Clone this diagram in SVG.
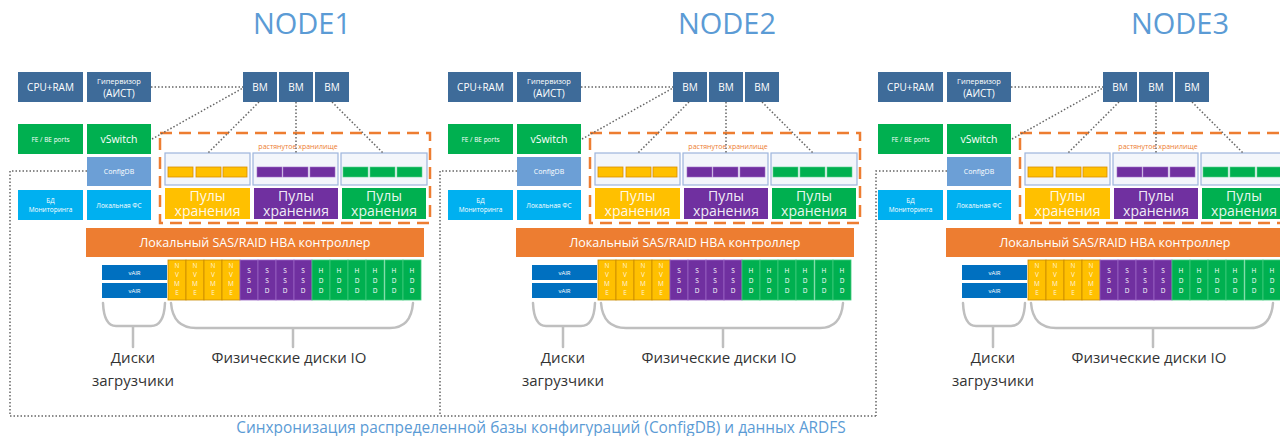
<svg xmlns="http://www.w3.org/2000/svg" width="1280" height="436" viewBox="0 0 1280 436">
<style>
text{font-family:"Open Sans","Liberation Sans",sans-serif;text-anchor:middle}
.title{font-size:29px;fill:#5b9bd5}
.dk{fill:#3e6b99}
.gr{fill:#00b050}
.lb{fill:#6c9fd6}
.cy{fill:#00b0f0}
.w{fill:#fff}
.sc{fill:#f3f6fb;stroke:#9db5dd;stroke-width:1.2}
.co{fill:#ffc000;stroke:#d98e00;stroke-width:0.8}
.cp{fill:#7030a0;stroke:#a070c8;stroke-width:0.6}
.cg{fill:#00b050;stroke:#5fd08f;stroke-width:0.6}
.po{fill:#ffc000}.pp{fill:#7030a0}.pg{fill:#00b050}
.pt{font-size:14px;fill:#fff;fill-opacity:.92}
.dash{fill:none;stroke:#ed7d31;stroke-width:2.5;stroke-dasharray:12 7}
.dN{fill:#ffc000;stroke:#c98a00;stroke-width:0.8}
.dS{fill:#7030a0;stroke:#9a64c4;stroke-width:0.8}
.dH{fill:#00b050;stroke:#3fca7c;stroke-width:0.8}
.lt{font-size:6.5px;fill:#fff}
.brace{fill:none;stroke:#bfbfbf;stroke-width:2.5;stroke-linecap:round}
.lbl{font-size:15px;fill:#333}
.dot{fill:none;stroke:#666;stroke-width:1.5;stroke-dasharray:1.5 2}
</style>
<defs>
<g id="server">
<rect class="dk" x="18" y="72" width="65" height="30"/>
<text class="w" x="50.5" y="91" font-size="10">CPU+RAM</text>
<rect class="dk" x="87" y="72" width="64" height="30"/>
<text class="w" x="119" y="84" font-size="7.5">Гипервизор</text>
<text class="w" x="119" y="97" font-size="10">(АИСТ)</text>
<rect class="dk" x="243" y="72" width="34" height="30"/>
<text class="w" x="260" y="91" font-size="10">ВМ</text>
<rect class="dk" x="279" y="72" width="34" height="30"/>
<text class="w" x="296" y="91" font-size="10">ВМ</text>
<rect class="dk" x="315" y="72" width="34" height="30"/>
<text class="w" x="332" y="91" font-size="10">ВМ</text>
<rect class="gr" x="18" y="124" width="65" height="30"/>
<text class="w" x="50.5" y="142" font-size="6.5">FE / BE ports</text>
<rect class="gr" x="87" y="124" width="64" height="30"/>
<text class="w" x="119" y="143" font-size="10.5">vSwitch</text>
<rect class="lb" x="87" y="157" width="64" height="29"/>
<text class="w" x="119" y="174" font-size="7">ConfigDB</text>
<rect class="cy" x="18" y="190" width="65" height="30"/>
<text class="w" x="50.5" y="203" font-size="6.5">БД</text>
<text class="w" x="50.5" y="212" font-size="6.5">Мониторинга</text>
<rect class="cy" x="87" y="190" width="64" height="30"/>
<text class="w" x="119" y="208" font-size="6.5">Локальная ФС</text>
<rect class="dash" x="160" y="133" width="270" height="90"/>
<text x="298" y="149" font-size="7" fill="#ed7d31">растянутое хранилище</text>
<rect class="sc" x="165" y="153" width="85" height="32"/>
<rect class="sc" x="253" y="153" width="85" height="32"/>
<rect class="sc" x="341" y="153" width="86" height="32"/>
<rect class="co" x="168" y="167" width="25" height="10"/>
<rect class="co" x="196" y="167" width="25" height="10"/>
<rect class="co" x="223" y="167" width="24" height="10"/>
<rect class="cp" x="257" y="167" width="25" height="10"/>
<rect class="cp" x="283" y="167" width="25" height="10"/>
<rect class="cp" x="310" y="167" width="25" height="10"/>
<rect class="cg" x="343" y="167" width="25" height="10"/>
<rect class="cg" x="370" y="167" width="25" height="10"/>
<rect class="cg" x="397" y="167" width="25" height="10"/>
<rect class="po" x="165" y="188" width="85" height="31"/>
<text class="pt" x="207.5" y="201">Пулы</text>
<text class="pt" x="207.5" y="216">хранения</text>
<rect class="pp" x="254" y="188" width="84" height="31"/>
<text class="pt" x="296" y="201">Пулы</text>
<text class="pt" x="296" y="216">хранения</text>
<rect class="pg" x="342" y="188" width="84" height="31"/>
<text class="pt" x="384" y="201">Пулы</text>
<text class="pt" x="384" y="216">хранения</text>
<rect fill="#ed7d31" x="86" y="228" width="338" height="29"/>
<text class="w" x="255" y="247" font-size="12.5">Локальный SAS/RAID HBA контроллер</text>
<rect fill="#0070c0" x="102" y="265" width="65" height="15"/>
<text class="w" x="134.5" y="274.5" font-size="6">vAIR</text>
<rect fill="#0070c0" x="102" y="283" width="65" height="15"/>
<text class="w" x="134.5" y="292.5" font-size="6">vAIR</text>
<rect class="dN" x="168" y="260" width="18" height="40"/>
<rect class="dN" x="186" y="260" width="18" height="40"/>
<rect class="dN" x="204" y="260" width="18" height="40"/>
<rect class="dN" x="222" y="260" width="18" height="40"/>
<rect class="dS" x="240" y="260" width="18" height="40"/>
<rect class="dS" x="258" y="260" width="18" height="40"/>
<rect class="dS" x="276" y="260" width="18" height="40"/>
<rect class="dS" x="294" y="260" width="18" height="40"/>
<rect class="dH" x="312" y="260" width="18" height="40"/>
<rect class="dH" x="330" y="260" width="18" height="40"/>
<rect class="dH" x="348" y="260" width="18" height="40"/>
<rect class="dH" x="366" y="260" width="18" height="40"/>
<rect class="dH" x="385" y="260" width="18" height="40"/>
<rect class="dH" x="403" y="260" width="18" height="40"/>
<g class="lt" fill-opacity=".85">
<text x="177" y="268">N</text><text x="177" y="277">V</text><text x="177" y="286">M</text><text x="177" y="295">E</text>
<text x="195" y="268">N</text><text x="195" y="277">V</text><text x="195" y="286">M</text><text x="195" y="295">E</text>
<text x="213" y="268">N</text><text x="213" y="277">V</text><text x="213" y="286">M</text><text x="213" y="295">E</text>
<text x="231" y="268">N</text><text x="231" y="277">V</text><text x="231" y="286">M</text><text x="231" y="295">E</text>
</g>
<g class="lt">
<text x="249" y="273">S</text><text x="249" y="283">S</text><text x="249" y="293">D</text>
<text x="267" y="273">S</text><text x="267" y="283">S</text><text x="267" y="293">D</text>
<text x="285" y="273">S</text><text x="285" y="283">S</text><text x="285" y="293">D</text>
<text x="303" y="273">S</text><text x="303" y="283">S</text><text x="303" y="293">D</text>
<text x="321" y="273">H</text><text x="321" y="283">D</text><text x="321" y="293">D</text>
<text x="339" y="273">H</text><text x="339" y="283">D</text><text x="339" y="293">D</text>
<text x="357" y="273">H</text><text x="357" y="283">D</text><text x="357" y="293">D</text>
<text x="375" y="273">H</text><text x="375" y="283">D</text><text x="375" y="293">D</text>
<text x="394" y="273">H</text><text x="394" y="283">D</text><text x="394" y="293">D</text>
<text x="412" y="273">H</text><text x="412" y="283">D</text><text x="412" y="293">D</text>
</g>
<path class="brace" d="M103,303 Q104,326 116,326 L151,326 Q164,326 165,303 M133,326 L133,347"/>
<path class="brace" d="M171,303 Q173,328 196,328 L390,328 Q411,328 413,303 M293,328 L293,347"/>
<text class="lbl" x="133" y="363">Диски</text>
<text class="lbl" x="133" y="386">загрузчики</text>
<text class="lbl" x="289" y="363" font-size="15.5">Физические диски IO</text>
</g>
<g id="links">
<path class="dot" d="M151,87 L243,87"/>
<path class="dot" d="M152,139 L243,88"/>
<path class="dot" d="M259,102 L208,153"/>
<path class="dot" d="M296,102 L296,153"/>
<path class="dot" d="M332,102 L383,153"/>
</g>
</defs>
<g id="node1">
<text class="title" x="302" y="34">NODE1</text>
<use href="#server"/>
</g>
<g id="node2">
<text class="title" x="727" y="34">NODE2</text>
<use href="#server" transform="translate(430,0)"/>
</g>
<g id="node3">
<text class="title" x="1180" y="34">NODE3</text>
<use href="#server" transform="translate(860,0)"/>
</g>
<g id="connectors">
<use href="#links"/>
<use href="#links" transform="translate(430,0)"/>
<use href="#links" transform="translate(860,0)"/>
<path class="dot" d="M87,171 L10,171 L10,416"/>
<path class="dot" d="M517,171 L440,171 L440,416"/>
<path class="dot" d="M947,171 L876,171 L876,416"/>
<path class="dot" d="M10,416 L876,416"/>
</g>
<text x="541" y="433" font-size="15.4" fill="#5b9bd5">Синхронизация распределенной базы конфигураций (ConfigDB) и данных ARDFS</text>
</svg>
